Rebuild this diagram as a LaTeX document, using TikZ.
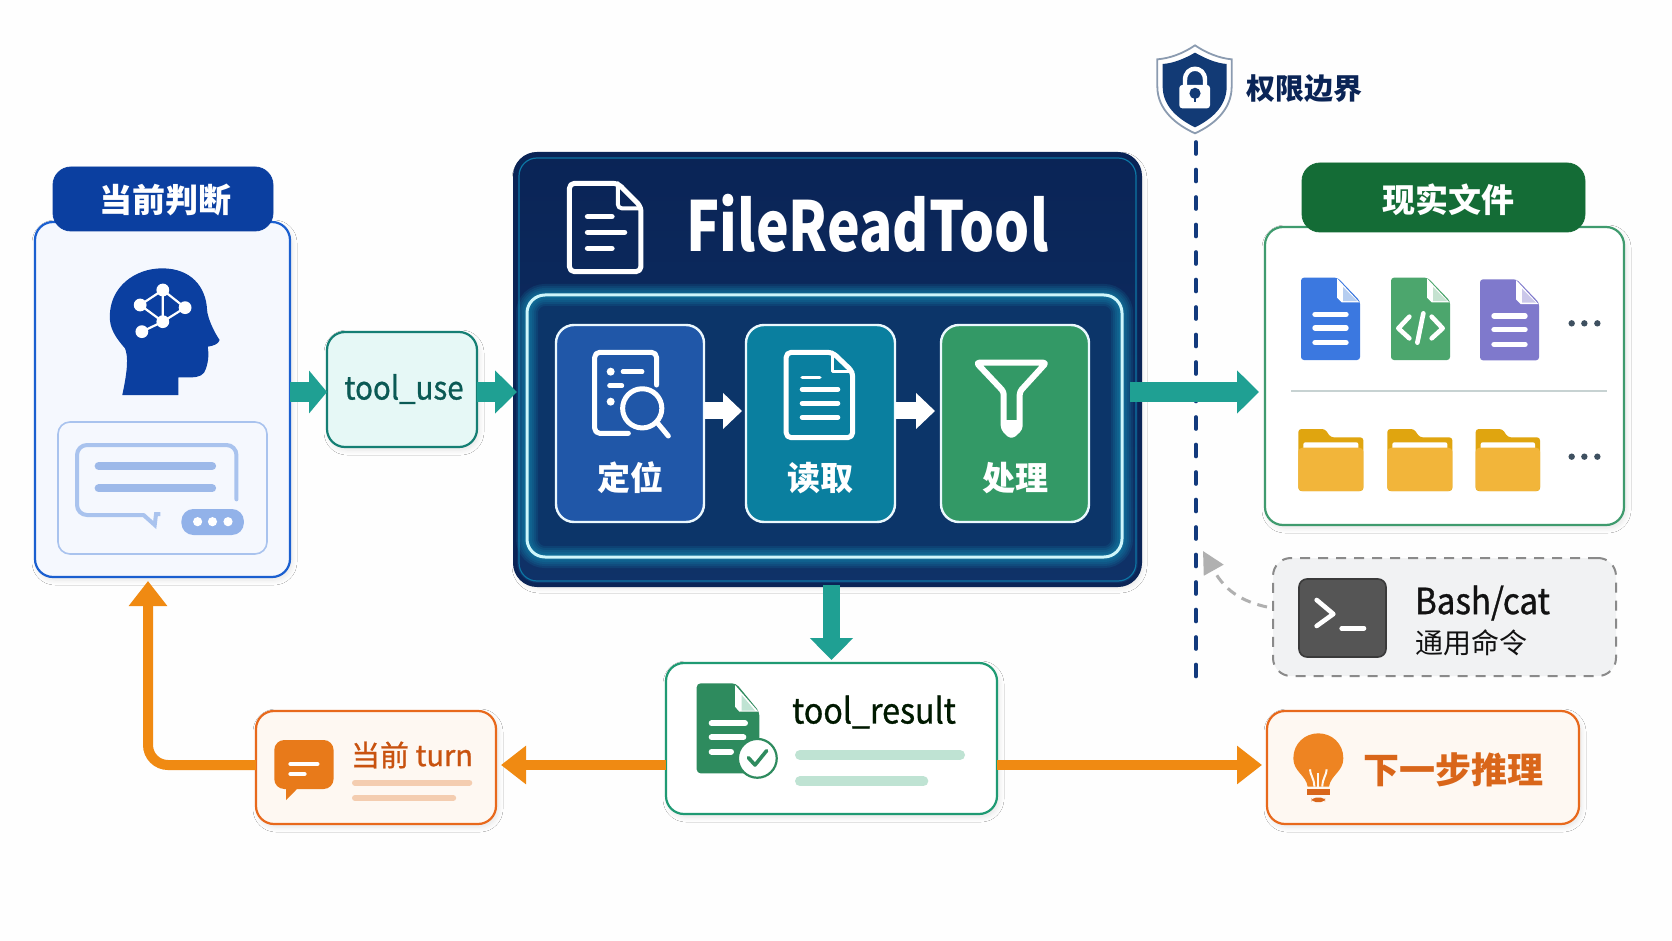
\documentclass[tikz,border=0pt]{standalone}
\usepackage{fontspec}
\setmainfont{Noto Sans}
\newfontfamily\cjk{Noto Sans CJK SC}
\newfontfamily\cjkm[FakeBold=0.9,FakeStretch=0.92]{Noto Sans CJK SC}
\newfontfamily\cjkn[FakeBold=0.9]{Noto Sans CJK SC}
\newfontfamily\cjkt[FakeStretch=0.8]{Noto Sans CJK SC}
\usetikzlibrary{arrows.meta,shadows.blur,calc}
\newcommand{\fs}[1]{\fontsize{#1}{#1}\selectfont}
\definecolor{bgc}{HTML}{FEFEFE}
\definecolor{tealc}{HTML}{1FA093}
\definecolor{orangec}{HTML}{F08A12}
\definecolor{navyc}{HTML}{0F3268}
\definecolor{navye}{HTML}{0A2456}
\definecolor{headc}{HTML}{0B3FA0}
\definecolor{cardb}{HTML}{1A5FD0}
\definecolor{cardf}{HTML}{F5F8FE}
\definecolor{softb}{HTML}{A9C3EE}
\definecolor{softd}{HTML}{9DB9E9}
\definecolor{softp}{HTML}{92B2E9}
\definecolor{tub}{HTML}{157F74}
\definecolor{tuf}{HTML}{E6F8F6}
\definecolor{tut}{HTML}{0B5A55}
\definecolor{stepa}{HTML}{2057A8}
\definecolor{stepb}{HTML}{0A7F9F}
\definecolor{stepc}{HTML}{339966}
\definecolor{glowc}{HTML}{19B4D6}
\definecolor{innerc}{HTML}{0C3569}
\definecolor{glowl}{HTML}{CFF6FB}
\definecolor{greenb}{HTML}{3F9B6E}
\definecolor{greenh}{HTML}{146C36}
\definecolor{resb}{HTML}{1F9A73}
\definecolor{resi}{HTML}{2E8B5E}
\definecolor{resbar}{HTML}{BFE3D3}
\definecolor{orangeb}{HTML}{E8691C}
\definecolor{orangef}{HTML}{FEF8F2}
\definecolor{oranget}{HTML}{D9661A}
\definecolor{orangeh}{HTML}{C8520F}
\definecolor{orangei}{HTML}{E87A1A}
\definecolor{orangebar}{HTML}{F4CDB0}
\definecolor{bulbc}{HTML}{EE8422}
\definecolor{boundc}{HTML}{123A7D}
\definecolor{shieldc}{HTML}{123A75}
\definecolor{shieldb}{HTML}{8B9BB0}
\definecolor{foldb}{HTML}{E0A50F}
\definecolor{foldf}{HTML}{F2B53A}
\definecolor{dotc}{HTML}{3E5060}
\definecolor{sepc}{HTML}{C7D2D2}
\definecolor{dashg}{HTML}{8A8A8A}
\definecolor{bashf}{HTML}{F1F2F3}
\definecolor{termc}{HTML}{555555}
\definecolor{termb}{HTML}{3A3A3A}
\definecolor{curveg}{HTML}{B0B0B0}
\definecolor{fblue}{HTML}{3B78E0}
\definecolor{fbluel}{HTML}{B5CDF0}
\definecolor{fgreen}{HTML}{4CA66D}
\definecolor{fgreenl}{HTML}{C5E2D0}
\definecolor{fpurple}{HTML}{7F79CC}
\definecolor{fpurplel}{HTML}{CBC8EA}
\tikzset{
  softshadow/.style={blur shadow={shadow blur steps=8,shadow xshift=1pt,shadow yshift=-1.5pt,shadow blur radius=2.5pt,shadow opacity=10}},
  cardbox/.style={draw=#1,rounded corners=9pt,line width=1.1pt,softshadow},
  headerbox/.style={fill=#1,draw=#1,rounded corners=9pt},
  stepbox/.style={fill=#1,draw=white!92!cyan,line width=1.2pt,rounded corners=9pt},
  lbl/.style={inner sep=0pt,outer sep=0pt},
  tealarr/.style={draw=tealc,line width=10pt,-{Triangle[length=#1,width=21pt,fill=tealc]}},
  whitearr/.style={draw=white,line width=8.5pt,-{Triangle[length=9.5pt,width=17.5pt,fill=white]}},
  orangearr/.style={draw=orangec,line width=5pt,-{Triangle[length=12.5pt,width=18.5pt,fill=orangec]}},
  icon/.style={draw=white,line width=2.5pt,line cap=round,line join=round},
  z1/.style={shift={(0,140)},x=0.1689pt,y=-0.16667pt},
  z2/.style={shift={(500,140)},x=0.2104pt,y=-0.16667pt},
  z3/.style={shift={(1130,30)},x=0.16667pt,y=-0.16667pt},
  z4/.style={shift={(1130,530)},x=0.16667pt,y=-0.16667pt},
  z5/.style={shift={(120,570)},x=0.17857pt,y=-0.16667pt},
  z6/.style={shift={(650,580)},x=0.16667pt,y=-0.16667pt},
}
\newcommand{\boxnode}[6]{\node[#1,minimum width={(#5-#3)*0.5pt},minimum height={(#6-#4)*0.5pt},anchor=north west,inner sep=0pt,outer sep=0pt] (#2) at (#3,#4) {};}
\newcommand{\fileicon}[5]{\begin{scope}[shift={(#1,#2)}]
  \fill[#4,rounded corners=1.5pt] (0,0) -- (110,0) -- (177,70) -- (177,#3) -- (0,#3) -- cycle;
  \fill[white] (108,2) -- (175,74) -- (122,74) -- (108,60) -- cycle;
  \fill[#5] (126,28) -- (168,70) -- (126,70) -- cycle;
\end{scope}}
\newcommand{\fileslines}[2]{\begin{scope}[shift={(#1,#2)}]
  \foreach \yy in {110,151,195} \draw[white,line width=2.7pt,line cap=round] (42,\yy) -- (135,\yy);
\end{scope}}
\newcommand{\foldericon}[3]{\begin{scope}[shift={(#1,#2)}]
  \fill[foldb,rounded corners=1.5pt] (0,188) -- (0,2) -- (80,2) -- (97,27) -- (#3,27) -- (#3,188) -- cycle;
  \fill[white,rounded corners=1pt] (15,42) rectangle (#3-15,80);
  \fill[foldf,rounded corners=2pt] (0,58) rectangle (#3,188);
\end{scope}}
\begin{document}
\begin{tikzpicture}[x=0.5pt,y=-0.5pt]
\useasboundingbox (0,0) rectangle (1672,941);
\fill[bgc] (0,0) rectangle (1672,941);
\coordinate (ya) at (0,392);
\coordinate (yw) at (0,411);
\coordinate (yb) at (0,765);
\coordinate (upx) at (148,765);

% left card
\boxnode{cardbox=cardb,fill=cardf}{left}{35}{222}{290}{577}
\boxnode{fill=cardf,draw=softb,line width=0.8pt,rounded corners=6pt}{leftinner}{58}{422}{267}{554}
\boxnode{headerbox=headc}{lefthead}{53}{167}{273}{231}
\node[lbl,text=white,font=\cjk\bfseries\fs{16.5}] (lefttext) at (165,200) {当前判断};
\begin{scope}[z1]
 \fill[headc] (362,765) .. controls (378,690) and (380,650) .. (370,625) .. controls (340,590) and (325,565) .. (325,530) .. controls (325,440) and (400,385) .. (480,385) .. controls (565,385) and (610,440) .. (613,510) .. controls (614,530) and (630,570) .. (650,600) .. controls (648,612) and (630,618) .. (615,620) .. controls (618,640) and (618,660) .. (610,685) .. controls (605,705) and (590,712) .. (565,712) -- (528,712) -- (528,765) -- cycle;
 \draw[white,line width=1.1pt] (482,450) -- (415,495) -- (482,545) -- (548,503) -- (482,450) -- (482,545) -- (420,575);
 \foreach \cx/\cy in {482/450,415/495,548/503,482/545,420/575} \fill[white] (\cx,\cy) circle[radius=3.2pt];
 \draw[softb,line width=2pt,rounded corners=5pt,line cap=round] (700,1078) -- (700,915) -- (228,915) -- (228,1125) -- (425,1125);
 \draw[softb,line width=2pt,line join=miter] (425,1125) -- (458,1155) -- (462,1122) -- (475,1122);
 \draw[softd,line width=4pt,line cap=round] (292,978) -- (628,978);
 \draw[softd,line width=4pt,line cap=round] (292,1045) -- (628,1045);
 \fill[softp,rounded corners=6pt] (537,1107) rectangle (722,1185);
 \foreach \cx in {585,629,675} \fill[white] (\cx,1145) circle[radius=2.3pt];
\end{scope}

% tool_use
\boxnode{cardbox=tub,fill=tuf}{toolu}{327}{332}{477}{447}
\node[lbl,text=tut,font=\cjkm\fs{16}] (toolutext) at (404,389) {tool\_use};

% main box
\boxnode{softshadow,top color=navye,bottom color=navyc,draw=navye,line width=2pt,rounded corners=11pt}{main}{515}{154}{1140}{585}
\draw[boundc!70!cyan,line width=0.6pt,rounded corners=9pt] (519,158) rectangle (1136,581);
\fill[innerc,rounded corners=9pt] (527,295) rectangle (1122,557);
\coordinate (innernw) at (527,295);
\coordinate (innerse) at (1122,557);
\foreach \w in {11,9,7,5,3} \draw[glowc,opacity=0.11,line width=\w pt,rounded corners=9pt] (innernw) rectangle (innerse);
\draw[glowl,line width=1.5pt,rounded corners=9pt] (innernw) rectangle (innerse);
\node[lbl,text=white,font=\cjkt\bfseries\fs{34.5}] (maintext) at (867.5,223) {FileReadTool};
\boxnode{stepbox=stepa}{sa}{556}{325}{704}{522}
\boxnode{stepbox=stepb}{sb}{746}{325}{895}{522}
\boxnode{stepbox=stepc}{sc}{941}{325}{1089}{522}
\node[lbl,text=white,font=\cjk\bfseries\fs{16.5}] (sat) at (630,478) {定位};
\node[lbl,text=white,font=\cjk\bfseries\fs{16.5}] (sbt) at (820,478) {读取};
\node[lbl,text=white,font=\cjk\bfseries\fs{16.5}] (sct) at (1015,478) {处理};
\draw[whitearr] (sa.east|-yw) -- (742,411);
\draw[whitearr] (sb.east|-yw) -- (935,411);
\begin{scope}[z2]
 % title file icon
 \draw[icon,rounded corners=2.5pt] (165,130) -- (280,130) -- (335,200) -- (335,395) -- (165,395) -- cycle;
 \draw[icon,line width=2pt,rounded corners=2pt] (280,130) -- (280,205) -- (335,205);
 \draw[icon,line width=2.7pt] (208,230) -- (266,230);
 \draw[icon,line width=2.7pt] (208,277) -- (296,277);
 \draw[icon,line width=2.7pt] (208,325) -- (266,325);
 % locate icon
 \draw[icon,rounded corners=2.5pt] (372,735) -- (372,637) -- (225,637) -- (225,880) -- (305,880);
 \fill[white] (263,695) circle[radius=2pt];
 \draw[icon,line width=2.2pt] (292,695) -- (338,695);
 \draw[icon,line width=2.2pt] (260,737) -- (290,737);
 \fill[white] (263,785) circle[radius=2pt];
 \draw[icon] (338,805) circle[radius=9.8pt];
 \draw[icon] (375,850) -- (400,888);
 % read icon
 \draw[icon,rounded corners=2.5pt] (680,637) -- (790,637) -- (838,695) -- (838,893) -- (680,893) -- cycle;
 \draw[icon,line width=1.8pt] (790,637) -- (790,695) -- (838,695);
 \draw[icon,line width=1.8pt] (718,712) -- (760,712);
 \foreach \yy in {748,790,832} \draw[icon,line width=2.4pt] (718,\yy) -- (803,\yy);
 % funnel icon
 \draw[icon,line width=3pt,rounded corners=1.5pt] (1132,668) -- (1298,668) -- (1235,755) -- (1235,865) -- (1215,888) -- (1197,865) -- (1197,755) -- cycle;
 \fill[white] (1197,840) -- (1235,840) -- (1235,865) -- (1215,888) -- (1197,865) -- cycle;
\end{scope}

% boundary
\coordinate (shieldtip) at (1196,142);
\coordinate (boundend) at (1196,682);
\draw[boundc,line width=1.8pt,line cap=round,dash pattern=on 6pt off 7.75pt] (shieldtip) -- (boundend);
\begin{scope}[z3]
 \fill[white] (195,46) .. controls (230,70) and (270,85) .. (305,88) -- (305,170) .. controls (305,240) and (250,285) .. (195,310) .. controls (140,285) and (82,240) .. (82,170) -- (82,88) .. controls (120,85) and (160,70) .. (195,46) -- cycle;
 \draw[shieldb,line width=0.9pt] (195,46) .. controls (230,70) and (270,85) .. (305,88) -- (305,170) .. controls (305,240) and (250,285) .. (195,310) .. controls (140,285) and (82,240) .. (82,170) -- (82,88) .. controls (120,85) and (160,70) .. (195,46) -- cycle;
 \fill[shieldc] (195,68) .. controls (230,88) and (262,100) .. (290,102) -- (290,170) .. controls (290,232) and (240,270) .. (195,292) .. controls (150,270) and (98,232) .. (98,170) -- (98,102) .. controls (128,100) and (160,88) .. (195,68) -- cycle;
 \draw[white,line width=2.2pt] (165,170) -- (165,150) .. controls (165,105) and (225,105) .. (225,150) -- (225,170);
 \fill[white,rounded corners=1.5pt] (148,165) rectangle (240,235);
 \fill[shieldc] (195,190) circle[radius=2.8pt];
 \fill[shieldc] (191,190) rectangle (199,216);
\end{scope}
\node[lbl,text=navye,font=\cjk\bfseries\fs{14.5}] (boundtext) at (1304,89) {权限边界};

% files card
\boxnode{cardbox=greenb,fill=white!50!bgc}{files}{1265}{227}{1624}{525}
\boxnode{headerbox=greenh}{fileshead}{1302}{163}{1585}{232}
\node[lbl,text=white,font=\cjk\bfseries\fs{16.5}] (filestext) at (1448,200) {现实文件};
\begin{scope}[z3]
 \fileicon{513}{743}{247}{fblue}{fbluel}
 \fileicon{783}{743}{247}{fgreen}{fgreenl}
 \fileicon{1050}{748}{243}{fpurple}{fpurplel}
 \fileslines{513}{743}
 \fileslines{1050}{748}
 \draw[white,line width=2.3pt,line cap=round,line join=round] (838,860) -- (805,895) -- (838,925);
 \draw[white,line width=2.3pt,line cap=round,line join=round] (905,860) -- (938,895) -- (905,925);
 \draw[white,line width=2.3pt,line cap=round] (880,850) -- (862,938);
 \foreach \cx in {1325,1363,1402} {\fill[dotc] (\cx,880) circle[radius=1.6pt]; \fill[dotc] (\cx,1280) circle[radius=1.6pt];}
 \draw[sepc,line width=1pt] (483,1084) -- (1430,1084);
 \foldericon{505}{1195}{195}
 \foldericon{772}{1195}{195}
 \foldericon{1037}{1195}{193}
\end{scope}

% bash card
\boxnode{fill=bashf,draw=dashg,line width=1pt,rounded corners=9pt,dash pattern=on 5pt off 4pt}{bash}{1273}{558}{1616}{676}
\boxnode{fill=termc,draw=termb,line width=0.8pt,rounded corners=4pt}{term}{1299}{579}{1386}{657}
\begin{scope}[z4]
 \draw[white,line width=2.3pt,line cap=round,line join=round] (560,210) -- (610,252) -- (560,288);
 \draw[white,line width=2.3pt,line cap=round] (635,295) -- (702,295);
\end{scope}
\node[lbl,anchor=west,text=black!93,font=\cjkm\fs{18}] (bashtext) at (1415,603) {Bash/cat};
\node[lbl,anchor=west,text=black!93,font=\cjk\fs{14}] (bashsub) at (1415,643) {通用命令};
\coordinate (curvestart) at ($(bash.west)+(-6,-10)$);
\coordinate (curveend) at (1203,551);
\draw[curveg,line width=1.5pt,dash pattern=on 5pt off 3.5pt,-{Triangle[length=11pt,width=11pt,fill=curveg]}] (curvestart) .. controls (1235,600) and (1222,585) .. (curveend);

% result
\boxnode{cardbox=resb,fill=white!50!bgc}{result}{666}{663}{997}{814}
\node[lbl,font=\cjkm\fs{17.5},text=black!90!green] (resulttext) at (874,712) {tool\_result};
\begin{scope}[z6]
 \fill[resi,rounded corners=2pt] (140,310) -- (258,310) -- (328,395) -- (328,580) -- (140,580) -- cycle;
 \fill[white] (255,315) -- (325,395) -- (268,395) -- (255,380) -- cycle;
 \fill[resbar] (275,345) -- (315,392) -- (275,392) -- cycle;
 \draw[white,line width=3pt,line cap=round] (185,430) -- (285,430);
 \draw[white,line width=3pt,line cap=round] (185,472) -- (280,472);
 \draw[white,line width=3pt,line cap=round] (185,515) -- (243,515);
 \fill[white,draw=resi,line width=1.1pt] (322,535) circle[radius=9.7pt];
 \draw[resi,line width=1.8pt,line cap=round,line join=round] (295,533) -- (315,555) -- (350,512);
 \draw[resbar,line width=5pt,line cap=round] (450,525) -- (930,525);
 \draw[resbar,line width=5pt,line cap=round] (450,604) -- (820,604);
\end{scope}

% current turn
\boxnode{cardbox=orangeb,fill=orangef}{turn}{256}{711}{496}{824}
\node[lbl,text=orangeh,font=\cjkn\fs{14.5}] (turntext) at (412,755) {当前 turn};
\begin{scope}[z5]
 \fill[orangei,rounded corners=5pt] (432,510) rectangle (598,657);
 \fill[orangei] (465,650) -- (465,690) -- (502,650) -- cycle;
 \draw[white,line width=2.4pt,line cap=round] (478,582) -- (552,582);
 \draw[white,line width=2.4pt,line cap=round] (478,612) -- (516,612);
 \draw[orangebar,line width=3pt,line cap=round] (658,638) -- (978,638);
 \draw[orangebar,line width=3pt,line cap=round] (658,684) -- (933,684);
\end{scope}

% next step
\boxnode{cardbox=orangeb,fill=orangef}{next}{1267}{711}{1579}{824}
\node[lbl,text=oranget,font=\cjk\bfseries\fs{18}] (nexttext) at (1453,770) {下一步推理};
\begin{scope}[z4]
 \fill[bulbc] (533,770) .. controls (528,735) and (490,725) .. (490,685) .. controls (490,640) and (525,610) .. (565,610) .. controls (605,610) and (640,640) .. (640,685) .. controls (640,725) and (602,735) .. (597,770) -- cycle;
 \draw[orangef,line width=1pt] (553,770) .. controls (553,745) and (540,735) .. (540,718);
 \draw[orangef,line width=1pt] (577,770) .. controls (577,745) and (590,735) .. (590,718);
 \draw[orangef,line width=1pt] (565,770) -- (565,730);
 \fill[oranget] (530,778) rectangle (600,795);
 \fill[oranget,rounded corners=2pt] (545,803) rectangle (585,816);
\end{scope}

% connectors
\draw[tealarr=9pt] (left.east|-ya) -- (toolu.west|-ya);
\draw[tealarr=11pt] (toolu.east|-ya) -- ($(main.west|-ya)+(2,0)$);
\draw[tealarr=11pt,line width=10pt] ($(main.east|-ya)+(-10,0)$) -- ($(files.west|-ya)+(-6,0)$);
\draw[draw=tealc,line width=8.5pt,-{Triangle[length=11pt,width=21pt,fill=tealc]}] (main.south-|result.north) -- ($(result.north)+(0,-3)$);
\draw[orangearr] (result.west|-yb) -- ($(turn.east|-yb)+(5,0)$);
\draw[orangearr] (result.east|-yb) -- ($(next.west|-yb)+(-5,0)$);
\draw[orangearr,rounded corners=10pt] (turn.west|-yb) -- (upx) -- ($(upx|-left.south)+(0,4)$);
\end{tikzpicture}
\end{document}
